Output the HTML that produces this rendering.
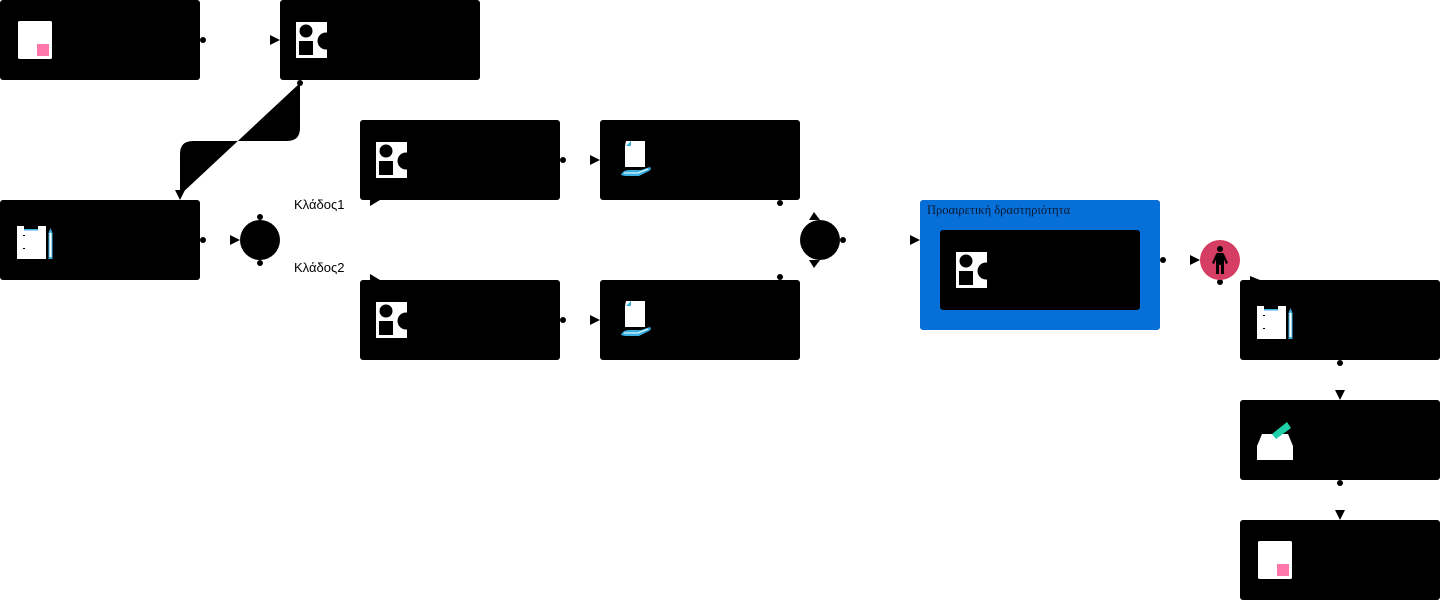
<!DOCTYPE html>
<html><head><meta charset="utf-8"><style>html,body{margin:0;padding:0;background:#fff;}svg{display:block}</style></head>
<body>
<svg width="1442" height="602" viewBox="0 0 1442 602" xmlns="http://www.w3.org/2000/svg">
<defs>
<g id="doc"><rect x="18" y="21" width="34" height="38" rx="1.5" fill="#fff"/><rect x="37" y="44" width="12" height="12" fill="#ff77aa"/></g>
<g id="shapes"><rect x="16" y="22" width="31" height="36" fill="#fff"/><circle cx="26" cy="31" r="6.5" fill="#000"/><rect x="19" y="41" width="14" height="14" fill="#000"/><circle cx="46" cy="41" r="8.5" fill="#000"/></g>
<g id="clip"><rect x="17" y="226" width="29" height="33" fill="#fff"/><rect x="24" y="223" width="14" height="7" fill="#000"/><rect x="24" y="229" width="14" height="1.5" fill="#3ab0e0"/><rect x="48.5" y="233" width="4" height="26" fill="#3ab0e0"/><rect x="49.5" y="233" width="2" height="24" fill="#fff"/><polygon points="48.5,233 50.5,228 52.5,233" fill="#3ab0e0"/><rect x="23" y="235" width="2" height="1" fill="#000"/><rect x="23" y="248" width="2" height="1" fill="#000"/></g>
<g id="hand"><path d="M626,141 h19 v26 h-20 v-21 z" fill="#fff"/><polygon points="626,146 631,141 631,146" fill="#3ab0e0"/><path d="M621,175 q2,-5 8,-5 h12 l9,-3 q2,2 -1,4 l-10,5 h-14 z" fill="#3ab0e0"/><path d="M624,173 h14 l10,-4" stroke="#fff" stroke-width="1" fill="none"/></g>
</defs>

<g fill="#000">
<circle cx="203" cy="40" r="3"/><polygon points="270,35 280,40 270,45"/>
<path d="M300,83 L300,128 Q300,141 287,141 L193,141 Q180,141 180,154 L180,195 Z"/>
<circle cx="300" cy="83" r="3"/><polygon points="175,190 185,190 180,200"/>
<circle cx="203" cy="240" r="3"/><polygon points="230,235 240,240 230,245"/>
<circle cx="260" cy="240" r="20"/><circle cx="260" cy="217" r="3"/><circle cx="260" cy="263" r="3"/>
<polygon points="370,196 380,200 370,206"/><polygon points="370,274 380,280 370,284"/>
<circle cx="563" cy="160" r="3"/><polygon points="590,155 600,160 590,165"/>
<circle cx="563" cy="320" r="3"/><polygon points="590,315 600,320 590,325"/>
<circle cx="780" cy="203" r="3"/><circle cx="780" cy="277" r="3"/>
<circle cx="820" cy="240" r="20"/><circle cx="843" cy="240" r="3"/>
<polygon points="809,220 814,212 820,220"/><polygon points="809,260 820,260 814,268"/>
<polygon points="910,235 920,240 910,245"/>
<circle cx="1163" cy="260" r="3"/><polygon points="1190,255 1200,260 1190,265"/>
<circle cx="1220" cy="282" r="3"/><polygon points="1250,276 1260,280 1250,283"/>
<circle cx="1340" cy="363" r="3"/><polygon points="1335,390 1345,390 1340,400"/>
<circle cx="1340" cy="483" r="3"/><polygon points="1335,510 1345,510 1340,520"/>
</g>

<g fill="#000">
<rect x="0" y="0" width="200" height="80" rx="3"/>
<rect x="280" y="0" width="200" height="80" rx="3"/>
<rect x="0" y="200" width="200" height="80" rx="3"/>
<rect x="360" y="120" width="200" height="80" rx="3"/>
<rect x="360" y="280" width="200" height="80" rx="3"/>
<rect x="600" y="120" width="200" height="80" rx="3"/>
<rect x="600" y="280" width="200" height="80" rx="3"/>
<rect x="1240" y="280" width="200" height="80" rx="3"/>
<rect x="1240" y="400" width="200" height="80" rx="3"/>
<rect x="1240" y="520" width="200" height="80" rx="3"/>
</g>
<rect x="920" y="200" width="240" height="130" rx="3" fill="#0670d8"/>
<rect x="940" y="230" width="200" height="80" rx="3" fill="#000"/>
<text x="927" y="214" font-family="Liberation Serif, serif" font-size="12.5" fill="#0b1a33">Προαιρετική δραστηριότητα</text>

<text x="294" y="209" font-family="Liberation Sans, sans-serif" font-size="13" fill="#000">Κλάδος1</text>
<text x="294" y="272" font-family="Liberation Sans, sans-serif" font-size="13" fill="#000">Κλάδος2</text>

<use href="#doc"/>
<use href="#doc" transform="translate(1240,520)"/>
<use href="#shapes" transform="translate(280,0)"/>
<use href="#shapes" transform="translate(360,120)"/>
<use href="#shapes" transform="translate(360,280)"/>
<use href="#shapes" transform="translate(940,230)"/>
<use href="#clip"/>
<use href="#clip" transform="translate(1240,80)"/>
<use href="#hand"/>
<use href="#hand" transform="translate(0,160)"/>
<polygon points="1262,434 1288,434 1293,446 1293,460 1257,460 1257,446" fill="#fff"/>
<polygon points="1272,434 1287,422 1291,428 1276,439" fill="#20d0a8"/>
<circle cx="1220" cy="260" r="20" fill="#d63d63"/>
<g fill="#000"><circle cx="1220" cy="249" r="3"/><rect x="1216" y="253" width="8" height="12" rx="1.5"/><rect x="1216" y="263" width="3" height="11"/><rect x="1221" y="263" width="3" height="11"/><polygon points="1216,254 1212,263 1214,264 1217,257"/><polygon points="1224,254 1228,263 1226,264 1223,257"/></g>
</svg>
</body></html>
